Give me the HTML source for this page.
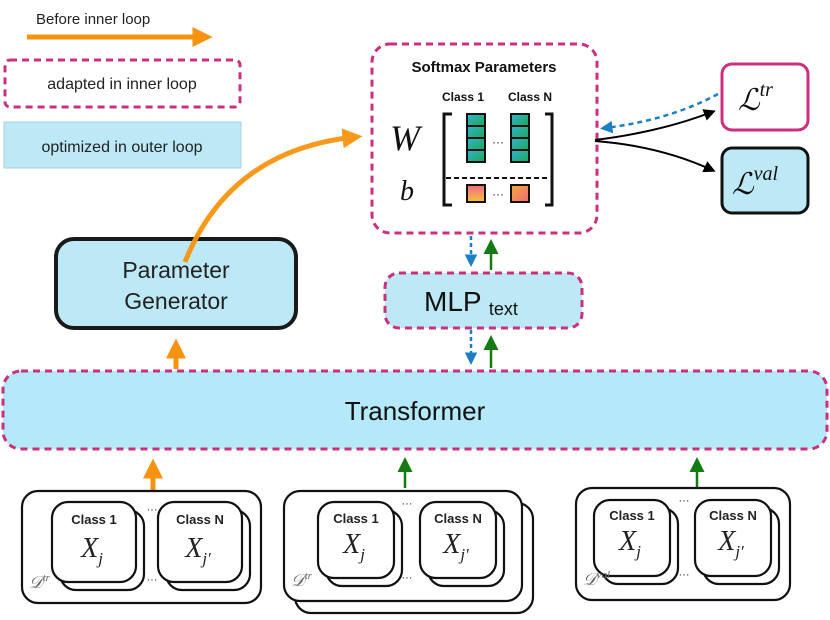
<!DOCTYPE html>
<html><head><meta charset="utf-8"><style>
html,body{margin:0;padding:0;background:#fff;}
svg{display:block;}
text{font-family:"Liberation Sans",sans-serif;}
text.serif,.serif text,.serif tspan{font-family:"Liberation Serif",serif;font-style:italic;}
</style></head><body>
<svg width="830" height="620" viewBox="0 0 830 620" xmlns="http://www.w3.org/2000/svg">
<defs>
<marker id="ao" markerWidth="4" markerHeight="4" refX="2.5" refY="2" orient="auto" markerUnits="strokeWidth"><path d="M0,0 L4,2 L0,4 z" fill="#f7940f"/></marker>
<marker id="ag" markerWidth="6" markerHeight="6" refX="4" refY="3" orient="auto" markerUnits="strokeWidth"><path d="M0,0 L6,3 L0,6 z" fill="#137a14"/></marker>
<marker id="ab" markerWidth="5" markerHeight="5" refX="3" refY="2.5" orient="auto" markerUnits="strokeWidth"><path d="M0,0 L5,2.5 L0,5 z" fill="#1a7fc4"/></marker>
<marker id="ak" markerWidth="6" markerHeight="6" refX="4" refY="3" orient="auto" markerUnits="strokeWidth"><path d="M0,0 L6,3 L0,6 z" fill="#000"/></marker>
<linearGradient id="gc" x1="0" y1="0" x2="1" y2="1"><stop offset="0" stop-color="#2fb6d6"/><stop offset="1" stop-color="#1fa650"/></linearGradient>
<linearGradient id="gp" x1="0" y1="0" x2="0" y2="1"><stop offset="0" stop-color="#f06a8a"/><stop offset="1" stop-color="#f5c23a"/></linearGradient>
<linearGradient id="gq" x1="0" y1="0" x2="1" y2="1"><stop offset="0" stop-color="#f5a93a"/><stop offset="1" stop-color="#ef6a7a"/></linearGradient>
</defs>

<text x="36" y="24" font-size="15" fill="#222">Before inner loop</text>
<line x1="27" y1="37" x2="205" y2="37" stroke="#f7940f" stroke-width="5" marker-end="url(#ao)"/>
<rect x="5" y="60" width="235" height="47" rx="5" fill="#fff" stroke="#cc2f7d" stroke-width="3" stroke-dasharray="7,5"/>
<text x="122" y="89" font-size="16" text-anchor="middle" fill="#222">adapted in inner loop</text>
<rect x="4" y="122" width="237" height="46" fill="#bde9f7" stroke="#a9cfe0" stroke-width="1"/>
<text x="122" y="152" font-size="16" text-anchor="middle" fill="#222">optimized in outer loop</text>

<rect x="372" y="44" width="225" height="189" rx="18" fill="#fff" stroke="#cc2f7d" stroke-width="3" stroke-dasharray="7,5"/>
<text x="484" y="72" font-size="15" font-weight="bold" text-anchor="middle" fill="#111">Softmax Parameters</text>
<text x="463" y="101" font-size="12" font-weight="bold" text-anchor="middle" fill="#111">Class 1</text>
<text x="530" y="101" font-size="12" font-weight="bold" text-anchor="middle" fill="#111">Class N</text>
<text x="390" y="150" font-size="36" class="serif" fill="#111">W</text>
<text x="400" y="200" font-size="28" class="serif" fill="#111">b</text>
<path d="M452,114 L444,114 L444,205 L452,205" fill="none" stroke="#111" stroke-width="3"/>
<path d="M545,114 L552,114 L552,205 L545,205" fill="none" stroke="#111" stroke-width="3"/>
<g stroke="#111" stroke-width="2">
<rect x="467" y="114" width="18" height="12" fill="url(#gc)"/><rect x="467" y="126" width="18" height="12" fill="url(#gc)"/><rect x="467" y="138" width="18" height="12" fill="url(#gc)"/><rect x="467" y="150" width="18" height="12" fill="url(#gc)"/>
<rect x="511" y="114" width="18" height="12" fill="url(#gc)"/><rect x="511" y="126" width="18" height="12" fill="url(#gc)"/><rect x="511" y="138" width="18" height="12" fill="url(#gc)"/><rect x="511" y="150" width="18" height="12" fill="url(#gc)"/>
<rect x="467" y="185" width="18" height="17" fill="url(#gp)"/>
<rect x="511" y="185" width="18" height="17" fill="url(#gq)"/>
</g>
<text x="498" y="146" font-size="12" text-anchor="middle" fill="#222">···</text>
<text x="498" y="198" font-size="12" text-anchor="middle" fill="#222">···</text>
<line x1="446" y1="178" x2="550" y2="178" stroke="#111" stroke-width="2" stroke-dasharray="5,3"/>

<rect x="722" y="64" width="86" height="66" rx="10" fill="#fff" stroke="#cc2f7d" stroke-width="3"/>
<text x="738" y="110" font-size="30" class="serif" fill="#111">ℒ<tspan font-size="20" dy="-14">tr</tspan></text>
<rect x="722" y="148" width="86" height="65" rx="10" fill="#bde9f7" stroke="#111" stroke-width="3"/>
<text x="732" y="194" font-size="30" class="serif" fill="#111">ℒ<tspan font-size="20" dy="-14">val</tspan></text>
<path d="M595,140 Q660,132 712,112" fill="none" stroke="#000" stroke-width="2" marker-end="url(#ak)"/>
<path d="M595,141 Q660,146 712,170" fill="none" stroke="#000" stroke-width="2" marker-end="url(#ak)"/>
<path d="M718,94 Q670,120 605,128" fill="none" stroke="#1a7fc4" stroke-width="2.5" stroke-dasharray="5,4" marker-end="url(#ab)"/>

<rect x="56" y="239" width="240" height="89" rx="18" fill="#bde9f7" stroke="#1a1a1a" stroke-width="4"/>
<text x="176" y="278" font-size="23" text-anchor="middle" fill="#222">Parameter</text>
<text x="176" y="309" font-size="23" text-anchor="middle" fill="#222">Generator</text>
<path d="M185,262 Q230,150 355,137" fill="none" stroke="#f7940f" stroke-width="5" marker-end="url(#ao)" opacity="0.95"/>

<rect x="385" y="273" width="197" height="55" rx="14" fill="#bde9f7" stroke="#cc2f7d" stroke-width="3" stroke-dasharray="7,5"/>
<text x="424" y="311" font-size="28" fill="#111">MLP <tspan font-size="18" dy="4">text</tspan></text>
<line x1="471" y1="236" x2="471" y2="262" stroke="#1a7fc4" stroke-width="2.5" stroke-dasharray="4,3" marker-end="url(#ab)"/>
<line x1="491" y1="270" x2="491" y2="244" stroke="#137a14" stroke-width="2.5" marker-end="url(#ag)"/>
<line x1="471" y1="330" x2="471" y2="360" stroke="#1a7fc4" stroke-width="2.5" stroke-dasharray="4,3" marker-end="url(#ab)"/>
<line x1="491" y1="368" x2="491" y2="340" stroke="#137a14" stroke-width="2.5" marker-end="url(#ag)"/>

<rect x="3" y="371" width="824" height="78" rx="18" fill="#b3e9f8" stroke="#cc2f7d" stroke-width="3" stroke-dasharray="7,5"/>
<text x="415" y="420" font-size="26" text-anchor="middle" fill="#111">Transformer</text>
<line x1="176" y1="369" x2="176" y2="346" stroke="#f7940f" stroke-width="5" marker-end="url(#ao)"/>
<line x1="153" y1="491" x2="153" y2="466" stroke="#f7940f" stroke-width="5" marker-end="url(#ao)"/>
<line x1="405" y1="488" x2="405" y2="462" stroke="#137a14" stroke-width="2.5" marker-end="url(#ag)"/>
<line x1="697" y1="488" x2="697" y2="462" stroke="#137a14" stroke-width="2.5" marker-end="url(#ag)"/>

<g fill="#fff" stroke="#111" stroke-width="2.2">
<rect x="22" y="491" width="239" height="112" rx="16"/>
<rect x="60" y="510" width="84" height="80" rx="16"/><rect x="52" y="502" width="84" height="80" rx="16"/>
<rect x="166" y="510" width="84" height="80" rx="16"/><rect x="158" y="502" width="84" height="80" rx="16"/>
<rect x="295" y="503" width="238" height="110" rx="16"/>
<rect x="284" y="491" width="238" height="110" rx="16"/>
<rect x="326" y="510" width="76" height="76" rx="16"/><rect x="318" y="502" width="76" height="76" rx="16"/>
<rect x="428" y="510" width="76" height="76" rx="16"/><rect x="420" y="502" width="76" height="76" rx="16"/>
<rect x="576" y="488" width="214" height="112" rx="16"/>
<rect x="602" y="508" width="76" height="76" rx="16"/><rect x="594" y="500" width="76" height="76" rx="16"/>
<rect x="703" y="508" width="76" height="76" rx="16"/><rect x="695" y="500" width="76" height="76" rx="16"/>
</g>
<g font-size="13" font-weight="bold" text-anchor="middle" fill="#222">
<text x="94" y="524">Class 1</text><text x="200" y="524">Class N</text>
<text x="356" y="523">Class 1</text><text x="458" y="523">Class N</text>
<text x="632" y="520">Class 1</text><text x="733" y="520">Class N</text>
</g>
<g class="serif" font-size="28" fill="#222" text-anchor="middle">
<text x="92" y="557">X<tspan font-size="17" dy="7">j</tspan></text>
<text x="198" y="557">X<tspan font-size="17" dy="7">j′</tspan></text>
<text x="354" y="553">X<tspan font-size="17" dy="7">j</tspan></text>
<text x="456" y="553">X<tspan font-size="17" dy="7">j′</tspan></text>
<text x="630" y="550">X<tspan font-size="17" dy="7">j</tspan></text>
<text x="731" y="550">X<tspan font-size="17" dy="7">j′</tspan></text>
</g>
<g font-size="11" fill="#222" text-anchor="middle">
<text x="152" y="513">···</text><text x="152" y="583">···</text>
<text x="407" y="507">···</text><text x="407" y="581">···</text>
<text x="684" y="504">···</text><text x="684" y="578">···</text>
</g>
<g class="serif" fill="#666" font-size="17">
<text x="29" y="588">𝒟<tspan font-size="11" dy="-7">tr</tspan></text>
<text x="291" y="586">𝒟<tspan font-size="11" dy="-7">tr</tspan></text>
<text x="583" y="585">𝒟<tspan font-size="11" dy="-7">val</tspan></text>
</g>
</svg>
</body></html>
